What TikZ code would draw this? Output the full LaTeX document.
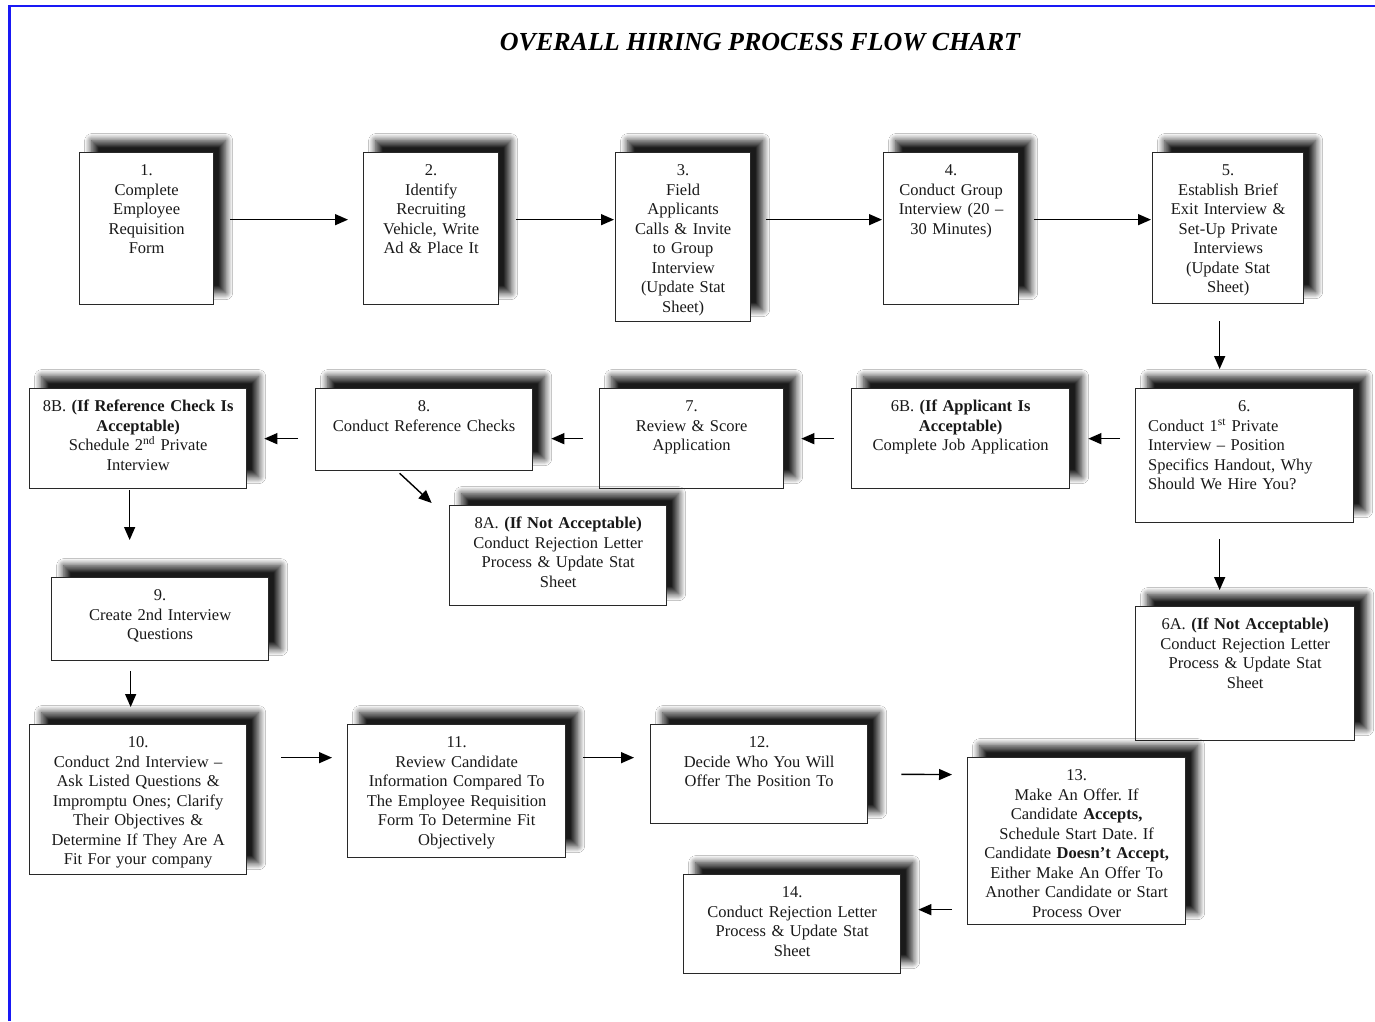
\documentclass[tikz,border=0pt]{standalone}
\usepackage{fontspec}
\setmainfont{Liberation Serif}
\usetikzlibrary{arrows.meta,shadows.blur}
\definecolor{frameblue}{RGB}{25,25,245}
\definecolor{boxline}{RGB}{40,40,40}
\frenchspacing
\tikzset{
  box/.style={draw=boxline, line width=1.3pt, fill=white, inner sep=0pt,
    blur shadow={shadow xshift=12pt, shadow yshift=12pt, shadow blur radius=7pt,
      shadow opacity=90, shadow blur steps=14}},
  lbl/.style={inner sep=0pt, align=center, font=\fontsize{16.5}{19.5}\selectfont, text=black!90},
  arr/.style={line width=1.4pt, draw=black, -{Triangle[length=13pt,width=11pt]}},
}
\newcommand{\flowbox}[7]{%
  \node[box, anchor=north west, minimum width=#4pt, minimum height=#5pt] (#1) at (#2,#3) {};
  \node[lbl, text width=#6pt, anchor=north] (#1-t) at ([yshift=-10pt]#1.north) {\strut#7};
}
\begin{document}
\begin{tikzpicture}[x=1pt,y=-1pt]
\useasboundingbox[fill=white] (0,0) rectangle (1375,1021);
\draw[frameblue, line width=2.2pt] (9.5,1021) -- (9.5,6) -- (1375,6);
\node[font=\fontsize{26}{30}\selectfont\bfseries\itshape] (title) at (760,42) {OVERALL HIRING PROCESS FLOW CHART};

% row 1
\flowbox{n1}{79}{152}{134}{152}{130}{1.\\Complete\\Employee\\Requisition\\Form}
\flowbox{n2}{363}{152}{135}{152}{131}{2.\\Identify\\Recruiting\\Vehicle, Write\\Ad \& Place It}
\flowbox{n3}{615}{152}{135}{169}{131}{3.\\Field\\Applicants\\Calls \& Invite\\to Group\\Interview\\(Update Stat\\Sheet)}
\flowbox{n4}{883}{152}{135}{152}{131}{4.\\Conduct Group\\Interview (20 –\\30 Minutes)}
\flowbox{n5}{1152}{152}{151}{151}{147}{5.\\Establish Brief\\Exit Interview \&\\Set-Up Private\\Interviews\\(Update Stat\\Sheet)}

% row 2
\node[box, anchor=north west, minimum width=218pt, minimum height=134pt] (n6) at (1135,388) {};
\node[lbl, align=left, text width=192pt, anchor=north west] (n6-t) at ([xshift=13pt,yshift=-10pt]n6.north west)
  {\strut\makebox[192pt]{6.}\\Conduct 1\textsuperscript{st} Private\\Interview – Position\\Specifics Handout, Why\\Should We Hire You?};
\flowbox{n6b}{851}{388}{218}{100}{214}{6B. \textbf{(If Applicant Is}\\\textbf{Acceptable)}\\Complete Job Application}
\flowbox{n7}{599}{388}{184}{100}{180}{7.\\Review \& Score\\Application}
\flowbox{n8}{315}{388}{217}{82}{213}{8.\\Conduct Reference Checks}
\flowbox{n8b}{29}{388}{217}{100}{213}{8B. \textbf{(If Reference Check Is}\\\textbf{Acceptable)}\\Schedule 2\textsuperscript{nd} Private\\Interview}
\flowbox{n8a}{449}{505}{217}{100}{213}{8A. \textbf{(If Not Acceptable)}\\Conduct Rejection Letter\\Process \& Update Stat\\Sheet}
\flowbox{n6a}{1135}{606}{219}{134}{215}{6A. \textbf{(If Not Acceptable)}\\Conduct Rejection Letter\\Process \& Update Stat\\Sheet}

% rows 3-4
\flowbox{n9}{51}{577}{217}{83}{213}{9.\\Create 2nd Interview\\Questions}
\flowbox{n10}{29}{724}{217}{150}{213}{10.\\Conduct 2nd Interview –\\Ask Listed Questions \&\\Impromptu Ones; Clarify\\Their Objectives \&\\Determine If They Are A\\Fit For your company}
\flowbox{n11}{347}{724}{218}{133}{214}{11.\\Review Candidate\\Information Compared To\\The Employee Requisition\\Form To Determine Fit\\Objectively}
\flowbox{n12}{650}{724}{217}{99}{213}{12.\\Decide Who You Will\\Offer The Position To}
\flowbox{n13}{967}{757}{218}{167}{214}{13.\\Make An Offer. If\\Candidate \textbf{Accepts,}\\Schedule Start Date. If\\Candidate \textbf{Doesn't Accept,}\\Either Make An Offer To\\Another Candidate or Start\\Process Over}
\flowbox{n14}{683}{874}{217}{99}{213}{14.\\Conduct Rejection Letter\\Process \& Update Stat\\Sheet}

% connectors
\draw[arr, shorten <=16pt, shorten >=15pt] ([yshift=9pt]n1.east) -- ([yshift=9pt]n2.west);
\draw[arr, shorten <=17pt, shorten >=1pt] ([yshift=9pt]n2.east) -- ([yshift=17.5pt]n3.west);
\draw[arr, shorten <=15pt, shorten >=1pt] ([yshift=17.5pt]n3.east) -- ([yshift=9pt]n4.west);
\draw[arr, shorten <=15pt, shorten >=1pt] ([yshift=9pt]n4.east) -- ([yshift=8.5pt]n5.west);
\draw[arr, shorten <=17pt, shorten >=19pt] ([xshift=-8.5pt]n5.south) -- ([xshift=-25pt]n6.north);
\draw[arr, shorten <=15pt, shorten >=18pt] ([yshift=17pt]n6.west) -- (n6b.east);
\draw[arr, shorten <=17pt, shorten >=17pt] (n6b.west) -- (n7.east);
\draw[arr, shorten <=16pt, shorten >=18pt] (n7.west) -- ([yshift=-9pt]n8.east);
\draw[arr, shorten <=17pt, shorten >=17pt] ([yshift=-9pt]n8.west) -- (n8b.east);
\draw[arr] ([xshift=-24.5pt,yshift=-2pt]n8.south) -- ([xshift=-126.5pt,yshift=2pt]n8a.north);
\draw[arr, shorten <=1pt, shorten >=37pt] ([xshift=-8.5pt]n8b.south) -- ([xshift=-30.5pt]n9.north);
\draw[arr, shorten <=10pt, shorten >=17pt] ([xshift=-29.5pt]n9.south) -- ([xshift=-7.5pt]n10.north);
\draw[arr, shorten <=34pt, shorten >=15pt] ([yshift=42pt]n10.east) -- ([yshift=33.5pt]n11.west);
\draw[arr, shorten <=17pt, shorten >=16pt] ([yshift=33.5pt]n11.east) -- ([yshift=16.5pt]n12.west);
\draw[arr, shorten <=33pt, shorten >=15pt] (n12.east) -- ([yshift=66.5pt]n13.west);
\draw[arr, shorten <=15pt, shorten >=17pt] ([yshift=-68.5pt]n13.west) -- ([yshift=14.5pt]n14.east);
\draw[arr, shorten <=16pt, shorten >=16pt] ([xshift=-25pt]n6.south) -- ([xshift=-25.5pt]n6a.north);
\end{tikzpicture}
\end{document}
